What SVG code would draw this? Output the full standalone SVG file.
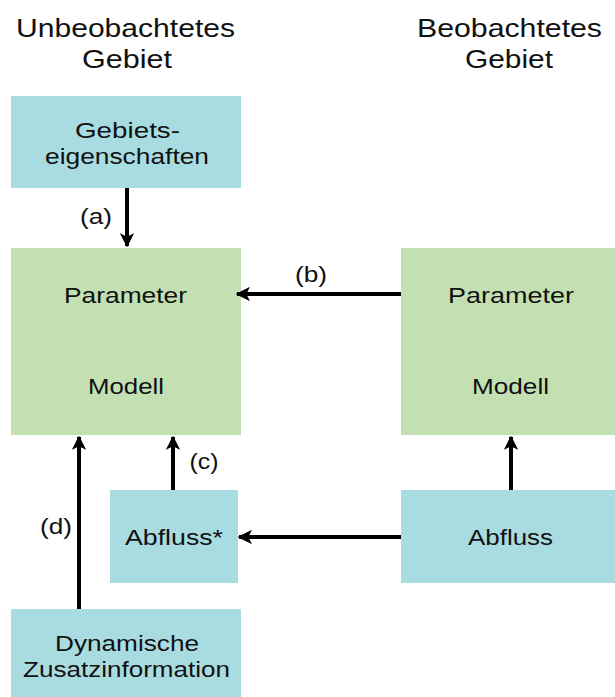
<svg xmlns="http://www.w3.org/2000/svg" width="615" height="697" viewBox="0 0 615 697">
  <style>
    .blue { fill: #a9dce1; }
    .green { fill: #c3e0b3; }
    text { font-family: "Liberation Sans", Arial, sans-serif; fill: #111; text-anchor: middle; }
    .head { font-size: 26.5px; }
    .lbl { font-size: 22.5px; }
    .tag { font-size: 22px; }
    .conn { stroke: #000; stroke-width: 4; fill: none; marker-end: url(#arrow); }
  </style>
  <defs>
    <marker id="arrow" viewBox="0 0 10 10" refX="9" refY="5" markerWidth="3.6" markerHeight="3.6" orient="auto" markerUnits="strokeWidth">
      <path d="M0,0 L10,5 L0,10 L2.5,5 Z" fill="#000"/>
    </marker>
  </defs>
  <rect width="615" height="697" fill="#fff"/>

  <!-- column headings -->
  <g id="heading-unobserved">
    <text class="head" x="125.5" y="37" textLength="219" lengthAdjust="spacingAndGlyphs">Unbeobachtetes</text>
    <text class="head" x="127" y="68" textLength="90" lengthAdjust="spacingAndGlyphs">Gebiet</text>
  </g>
  <g id="heading-observed">
    <text class="head" x="509.5" y="37" textLength="185" lengthAdjust="spacingAndGlyphs">Beobachtetes</text>
    <text class="head" x="509" y="68" textLength="88" lengthAdjust="spacingAndGlyphs">Gebiet</text>
  </g>

  <g id="gebietseigenschaften">
    <rect class="blue" x="11" y="96" width="230" height="92"/>
    <text class="lbl" x="127.5" y="138" textLength="105" lengthAdjust="spacingAndGlyphs">Gebiets-</text>
    <text class="lbl" x="127" y="164" textLength="164" lengthAdjust="spacingAndGlyphs">eigenschaften</text>
  </g>

  <g id="modell-unobserved">
    <rect class="green" x="11" y="248" width="230" height="187"/>
    <text class="lbl" x="125.5" y="303" textLength="123" lengthAdjust="spacingAndGlyphs">Parameter</text>
    <text class="lbl" x="126" y="394" textLength="76" lengthAdjust="spacingAndGlyphs">Modell</text>
  </g>

  <g id="modell-observed">
    <rect class="green" x="401" y="248" width="214" height="187"/>
    <text class="lbl" x="511" y="303" textLength="126" lengthAdjust="spacingAndGlyphs">Parameter</text>
    <text class="lbl" x="510.5" y="394" textLength="77" lengthAdjust="spacingAndGlyphs">Modell</text>
  </g>

  <g id="abfluss-estimated">
    <rect class="blue" x="110" y="490" width="128" height="93"/>
    <text class="lbl" x="174" y="545" textLength="98" lengthAdjust="spacingAndGlyphs">Abfluss*</text>
  </g>

  <g id="abfluss-observed">
    <rect class="blue" x="401" y="490" width="214" height="93"/>
    <text class="lbl" x="510.5" y="545" textLength="85" lengthAdjust="spacingAndGlyphs">Abfluss</text>
  </g>

  <g id="zusatzinformation">
    <rect class="blue" x="11" y="609" width="230" height="88"/>
    <text class="lbl" x="127" y="651" textLength="144" lengthAdjust="spacingAndGlyphs">Dynamische</text>
    <text class="lbl" x="126.5" y="677" textLength="207" lengthAdjust="spacingAndGlyphs">Zusatzinformation</text>
  </g>

  <g id="connectors">
    <line class="conn" x1="127" y1="188" x2="127" y2="246"/>
    <line class="conn" x1="401" y1="294" x2="237" y2="294"/>
    <line class="conn" x1="173" y1="490" x2="173" y2="437"/>
    <line class="conn" x1="79" y1="609" x2="79" y2="437"/>
    <line class="conn" x1="511" y1="490" x2="511" y2="437"/>
    <line class="conn" x1="401" y1="537" x2="239" y2="537"/>
    <text class="tag" x="96" y="224" textLength="32" lengthAdjust="spacingAndGlyphs">(a)</text>
    <text class="tag" x="311" y="282" textLength="32" lengthAdjust="spacingAndGlyphs">(b)</text>
    <text class="tag" x="204" y="469" textLength="29" lengthAdjust="spacingAndGlyphs">(c)</text>
    <text class="tag" x="56" y="534" textLength="32" lengthAdjust="spacingAndGlyphs">(d)</text>
  </g>
</svg>
